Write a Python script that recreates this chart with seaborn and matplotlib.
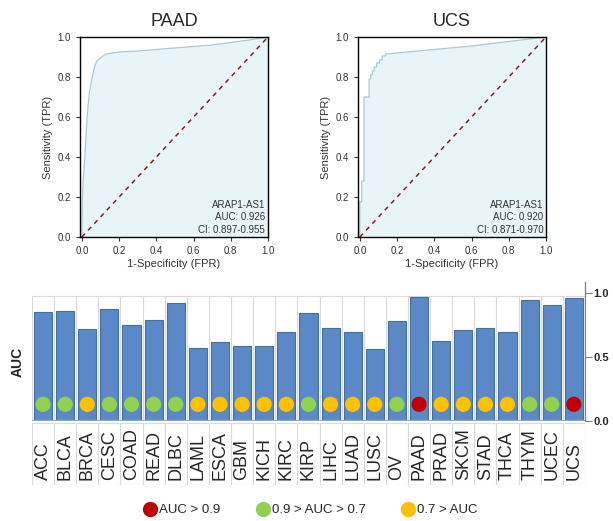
import matplotlib
matplotlib.use("Agg")
import matplotlib.pyplot as plt
from matplotlib.lines import Line2D
import numpy as np
import pandas as pd
import seaborn as sns

# ROC curves
paad_fpr = [0, 0.003, 0.008, 0.015, 0.022, 0.03, 0.04, 0.05, 0.065, 0.08, 0.1, 0.13, 0.2, 0.3, 0.5, 0.7, 0.9, 1.0]
paad_tpr = [0, 0.2, 0.3, 0.38, 0.5, 0.62, 0.72, 0.77, 0.84, 0.88, 0.895, 0.915, 0.925, 0.93, 0.945, 0.96, 0.985, 1.0]
ucs_fpr = [0, 0, 0.01, 0.01, 0.022, 0.022, 0.05, 0.05, 0.058, 0.058, 0.067, 0.067, 0.077, 0.077,
           0.09, 0.09, 0.105, 0.105, 0.12, 0.12, 0.135, 0.14, 0.6, 1.0]
ucs_tpr = [0, 0.176, 0.176, 0.28, 0.28, 0.70, 0.70, 0.79, 0.79, 0.81, 0.81, 0.83, 0.83, 0.85,
           0.85, 0.87, 0.87, 0.885, 0.885, 0.905, 0.905, 0.915, 0.955, 1.0]
roc_titles = ["PAAD", "UCS"]
roc_notes = [["ARAP1-AS1", "AUC: 0.926", "CI: 0.897-0.955"],
             ["ARAP1-AS1", "AUC: 0.920", "CI: 0.871-0.970"]]

# pan-cancer AUC bars
cancers = ["ACC", "BLCA", "BRCA", "CESC", "COAD", "READ", "DLBC", "LAML", "ESCA", "GBM", "KICH",
           "KIRC", "KIRP", "LIHC", "LUAD", "LUSC", "OV", "PAAD", "PRAD", "SKCM", "STAD", "THCA",
           "THYM", "UCEC", "UCS"]
auc = [0.848, 0.861, 0.717, 0.874, 0.749, 0.79, 0.921, 0.573, 0.613, 0.589, 0.589,
       0.694, 0.84, 0.725, 0.694, 0.563, 0.783, 0.969, 0.628, 0.709, 0.725, 0.694,
       0.948, 0.903, 0.961]
group = ["mid", "mid", "low", "mid", "mid", "mid", "mid", "low", "low", "low", "low",
         "low", "mid", "low", "low", "low", "mid", "high", "low", "low", "low", "low",
         "mid", "mid", "high"]
group_labels = {"high": "AUC > 0.9", "mid": "0.9 > AUC > 0.7", "low": "0.7 > AUC"}
group_colors = {"high": "#C00000", "mid": "#92D050", "low": "#FFC000"}

sns.set_style("white")
plt.rcParams["font.family"] = ["Liberation Sans", "DejaVu Sans"]

fig = plt.figure(figsize=(6.13, 5.21), dpi=100)

roc_pos = [[0.1305, 0.545, 0.3067, 0.384], [0.584, 0.545, 0.3067, 0.384]]
roc_data = [(paad_fpr, paad_tpr), (ucs_fpr, ucs_tpr)]
for i in range(2):
    ax = fig.add_axes(roc_pos[i])
    df = pd.DataFrame({"fpr": roc_data[i][0], "tpr": roc_data[i][1]})
    ax.fill_between(df["fpr"], df["tpr"], 0, color="#E8F5F8", lw=0)
    sns.lineplot(data=df, x="fpr", y="tpr", sort=False, estimator=None, color="#A9C9D0", lw=0.9, ax=ax)
    ax.plot([0, 1], [0, 1], ls=(0, (3, 3)), color="#8B1A1A", lw=1.1)
    ax.set_xlim(-0.01, 1.0)
    ax.set_ylim(0, 1.0)
    ax.set_xticks(np.arange(0, 1.01, 0.2))
    ax.set_yticks(np.arange(0, 1.01, 0.2))
    ax.set_xticklabels([f"{v:.1f}" for v in np.arange(0, 1.01, 0.2)])
    ax.set_yticklabels([f"{v:.1f}" for v in np.arange(0, 1.01, 0.2)])
    ax.tick_params(axis="both", labelsize=7, length=3, width=0.8, direction="out",
                   left=True, bottom=True, colors="#333333")
    for s in ax.spines.values():
        s.set_color("black")
        s.set_linewidth(1.0)
    ax.set_xlabel("1-Specificity (FPR)", fontsize=8, color="#333333", labelpad=2)
    ax.set_ylabel("Sensitivity (TPR)", fontsize=8, color="#333333", labelpad=3)
    ax.set_title(roc_titles[i], fontsize=13, pad=8)
    for j, line in enumerate(roc_notes[i]):
        ax.text(0.985, 0.16 - j * 0.062, line, transform=ax.transAxes, ha="right", va="center",
                fontsize=7, color="#333333")

# bar panel
ax = fig.add_axes([0.0522, 0.192, 0.902, 0.267])
bdf = pd.DataFrame({"cancer": cancers, "auc": auc, "group": group})
sns.barplot(data=bdf, x="cancer", y="auc", color="#5B89C7", edgecolor="#41719C", linewidth=0.8,
            width=0.82, saturation=1, ax=ax)
dot_level = 0.13
bdf["dot"] = dot_level
sns.scatterplot(data=bdf, x="cancer", y="dot", hue="group", palette=group_colors, s=120,
                edgecolor="none", legend=False, ax=ax, zorder=3)
n = len(cancers)
cell_top = 0.977
ax.vlines(np.arange(-0.5, n, 1), 0, cell_top, color="#D9D9D9", lw=0.8, zorder=0)
ax.hlines(cell_top, -0.5, n - 0.5, color="#D9D9D9", lw=0.8, zorder=0)
ax.axhline(0, color="#8EA9C8", lw=1.6, zorder=4)
ax.set_xlim(-0.5, n - 0.5)
ax.set_ylim(0, 1.086)
ax.set_xlabel("")
ax.set_xticks([])
ax.yaxis.tick_right()
ax.set_yticks([0, 0.5, 1.0])
ax.set_yticklabels(["0.0", "0.5", "1.0"], fontweight="bold", fontsize=8)
ax.tick_params(axis="y", length=5, width=0.8, color="#7F7F7F", pad=1, right=True)
for k in ["left", "top", "bottom"]:
    ax.spines[k].set_visible(False)
ax.spines["right"].set_color("#7F7F7F")
ax.spines["right"].set_linewidth(0.9)
ax.set_ylabel("")
fig.text(0.028, 0.305, "AUC", rotation=90, fontsize=10, fontweight="bold", ha="center", va="center")

# label cells
lax = fig.add_axes([0.0522, 0.069, 0.902, 0.119])
lax.set_xlim(-0.5, n - 0.5)
lax.set_ylim(0, 1)
lax.vlines(np.arange(-0.5, n, 1), 0, 1, color="#D9D9D9", lw=0.8)
lax.hlines([0, 1], -0.5, n - 0.5, color="#D9D9D9", lw=0.8)
for i, c in enumerate(cancers):
    lax.text(i, 0.08, c, rotation=90, ha="center", va="bottom", fontsize=13)
lax.axis("off")

handles = [Line2D([], [], marker="o", ls="none", markersize=11, markerfacecolor=group_colors[g],
                  markeredgecolor="none", label=group_labels[g]) for g in ["high", "mid", "low"]]
fig.legend(handles=handles, loc="center", bbox_to_anchor=(0.505, 0.021), ncol=3, frameon=False,
           fontsize=9.5, handletextpad=0.0, columnspacing=2.6, handlelength=1.3)

fig.savefig("out.png", dpi=100)
